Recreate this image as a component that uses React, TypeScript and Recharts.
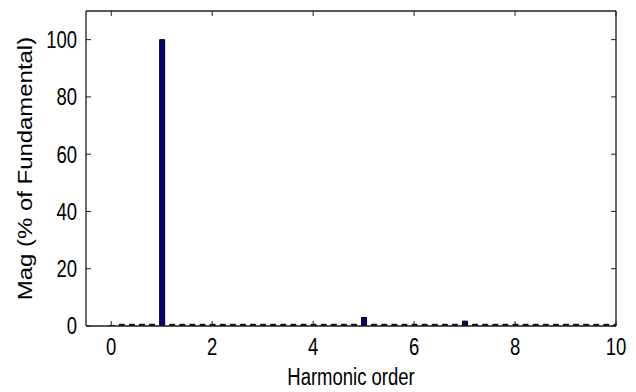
import React from "react";
import { BarChart, Bar, XAxis, YAxis } from "recharts";

const harmonicOrder = [
  0, 0.2, 0.4, 0.6, 0.8, 1, 1.2, 1.4, 1.6, 1.8,
  2, 2.2, 2.4, 2.6, 2.8, 3, 3.2, 3.4, 3.6, 3.8,
  4, 4.2, 4.4, 4.6, 4.8, 5, 5.2, 5.4, 5.6, 5.8,
  6, 6.2, 6.4, 6.6, 6.8, 7, 7.2, 7.4, 7.6, 7.8,
  8, 8.2, 8.4, 8.6, 8.8, 9, 9.2, 9.4, 9.6, 9.8, 10,
];
const magnitude = [
  0.2, 0.6, 0.6, 0.6, 0.6, 100, 0.6, 0.6, 0.6, 0.6,
  0.6, 0.6, 0.6, 0.6, 0.6, 0.6, 0.6, 0.6, 0.6, 0.6,
  0.6, 0.6, 0.6, 0.6, 0.6, 3.0, 0.6, 0.6, 0.6, 0.6,
  0.6, 0.6, 0.6, 0.6, 0.6, 1.7, 0.6, 0.6, 0.6, 0.6,
  0.6, 0.6, 0.6, 0.6, 0.6, 0.6, 0.6, 0.6, 0.6, 0.6, 0.6,
];
const xTicks = [0, 2, 4, 6, 8, 10];
const yTicks = [0, 20, 40, 60, 80, 100];
const xDomain = [-0.5, 10];
const yDomain = [0, 110];
const xTitle = "Harmonic order";
const yTitle = "Mag (% of Fundamental)";

const data = harmonicOrder.map((h, i) => ({ h, mag: magnitude[i] }));

const FONT = "'Liberation Sans', Arial, sans-serif";
const FS = 18.5;
const K = 1.25;
const INK = "#000";
const AX = "#1e1e1e";
const TL = 5;

const XTick = (p: any) => (
  <g>
    <line x1={p.x} x2={p.x} y1={p.y} y2={p.y - TL} stroke={AX} strokeWidth={1} />
    <text
      transform={`translate(${p.x},${p.y + 29}) scale(1,${K})`}
      textAnchor="middle"
      fontFamily={FONT}
      fontSize={FS}
      fill={INK}
    >
      {p.payload.value}
    </text>
  </g>
);

const TopTick = (p: any) => (
  <line x1={p.x} x2={p.x} y1={p.y} y2={p.y + TL} stroke={AX} strokeWidth={1} />
);

const YTick = (p: any) => (
  <g>
    <line x1={p.x} x2={p.x + TL} y1={p.y} y2={p.y} stroke={AX} strokeWidth={1} />
    <text
      transform={`translate(${p.x - 9},${p.y}) scale(1,${K})`}
      textAnchor="end"
      dy="0.36em"
      fontFamily={FONT}
      fontSize={FS}
      fill={INK}
    >
      {p.payload.value}
    </text>
  </g>
);

const RightTick = (p: any) => (
  <line x1={p.x} x2={p.x - TL} y1={p.y} y2={p.y} stroke={AX} strokeWidth={1} />
);

const XTitle = (p: any) => {
  const vb = p.viewBox;
  const cx = vb.x + vb.width / 2;
  return (
    <text
      transform={`translate(${cx},${vb.y + 59}) scale(1,${K})`}
      textAnchor="middle"
      fontFamily={FONT}
      fontSize={FS}
      fill={INK}
    >
      {xTitle}
    </text>
  );
};

const YTitle = (p: any) => {
  const vb = p.viewBox;
  const cy = vb.y + vb.height / 2;
  return (
    <text
      transform={`translate(32,${cy}) scale(1,1.14) rotate(-90)`}
      textAnchor="middle"
      fontFamily={FONT}
      fontSize={21}
      fill={INK}
    >
      {yTitle}
    </text>
  );
};

const axisStroke = { stroke: AX, strokeWidth: 1.3 };

export default function App() {
  return (
    <div style={{ position: "absolute", left: 0, top: 0, background: "#fff" }}>
      <BarChart
        width={636}
        height={392}
        data={data}
        margin={{ top: 0, right: 0, bottom: 0, left: 0 }}
        barGap={0}
      >
        <XAxis
          xAxisId="bottom"
          dataKey="h"
          type="number"
          orientation="bottom"
          domain={xDomain}
          ticks={xTicks}
          allowDataOverflow
          height={66}
          tickSize={0}
          tickMargin={0}
          tick={<XTick />}
          axisLine={axisStroke}
          tickLine={false}
          label={{ content: <XTitle /> }}
        />
        <XAxis
          xAxisId="top"
          dataKey="h"
          type="number"
          orientation="top"
          domain={xDomain}
          ticks={xTicks}
          allowDataOverflow
          height={11}
          tickSize={0}
          tickMargin={0}
          tick={<TopTick />}
          axisLine={axisStroke}
          tickLine={false}
        />
        <YAxis
          yAxisId="left"
          orientation="left"
          type="number"
          domain={yDomain}
          ticks={yTicks}
          allowDataOverflow
          width={86}
          tickSize={0}
          tickMargin={0}
          tick={<YTick />}
          axisLine={axisStroke}
          tickLine={false}
          label={{ content: <YTitle /> }}
        />
        <YAxis
          yAxisId="right"
          orientation="right"
          type="number"
          domain={yDomain}
          ticks={yTicks}
          allowDataOverflow
          width={20}
          tickSize={0}
          tickMargin={0}
          tick={<RightTick />}
          axisLine={axisStroke}
          tickLine={false}
        />
        <Bar
          xAxisId="bottom"
          yAxisId="left"
          dataKey="mag"
          fill="#000080"
          stroke="#000"
          strokeWidth={1}
          barSize={5}
          isAnimationActive={false}
        />
      </BarChart>
    </div>
  );
}
